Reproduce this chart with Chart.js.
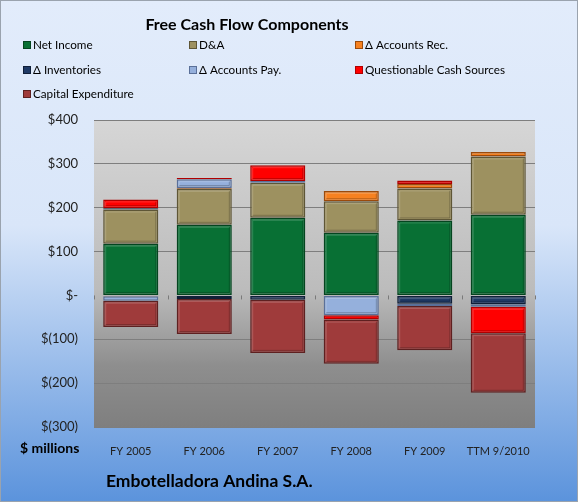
<!DOCTYPE html>
<html>
<head>
<meta charset="utf-8">
<script src="https://cdn.jsdelivr.net/npm/chart.js@4.4.0/dist/chart.umd.min.js"></script>
<style>
  html, body { margin: 0; padding: 0; background: #fff; }
  #wrap { width: 578px; height: 502px; }
</style>
</head>
<body>
<div id="wrap"><canvas id="kaavio" width="578" height="502"></canvas></div>
<script>
// Data luettu kuvasta ($ miljoonaa)
const vuodet = ["FY 2005", "FY 2006", "FY 2007", "FY 2008", "FY 2009", "TTM 9/2010"];
const nettotulos = [118, 161, 177, 143, 171, 184];
const poistot = [78, 82, 80, 72, 73, 133];
const myyntisaamiset = [-2, 2, 0, 23, 10, 10];
const varastot = [3, -8, -10, 0, -19, -20];
const ostovelat = [-10, 20, 4, -45, -5, -6];
const kyseenalaiset = [20, 3, 36, -10, 8, -60];
const investoinnit = [-60, -80, -121, -101, -101, -136];
const yTicks = [400, 300, 200, 100, 0, -100, -200, -300];

const fontti = "Lato, 'Open Sans', sans-serif";

// Värit ja reunavärit sarjoille
const sarjat = [
  { label: "Net Income", data: nettotulos, vari: "#087034", reuna: "#04451f" },
  { label: "D&A", data: poistot, vari: "#9d9160", reuna: "#5e5636" },
  { label: "\u0394 Accounts Rec.", data: myyntisaamiset, vari: "#f68120", reuna: "#9a4a0c" },
  { label: "\u0394 Inventories", data: varastot, vari: "#1f3a66", reuna: "#101f38" },
  { label: "\u0394 Accounts Pay.", data: ostovelat, vari: "#95b0dc", reuna: "#5a7099" },
  { label: "Questionable Cash Sources", data: kyseenalaiset, vari: "#ff0000", reuna: "#b00000" },
  { label: "Capital Expenditure", data: investoinnit, vari: "#9f3b3b", reuna: "#5e2020" }
];

// Taustat, otsikko, selite ja tekstit piirretään itse
const taustaPlugin = {
  id: "tausta",
  beforeDraw(chart) {
    const c = chart.ctx;
    const a = chart.chartArea;
    c.save();
    let g = c.createLinearGradient(0, 0, 0, 502);
    g.addColorStop(0, "#e2ecfb");
    g.addColorStop(0.45, "#d9e6f9");
    g.addColorStop(1, "#5b93dc");
    c.fillStyle = g;
    c.fillRect(0, 0, 578, 502);
    c.strokeStyle = "#9aa3ae";
    c.lineWidth = 1;
    c.strokeRect(0.5, 0.5, 577, 501);
    // piirtoalueen harmaa liukuväri
    let g2 = c.createLinearGradient(0, a.top, 0, a.bottom);
    g2.addColorStop(0, "#d6d6d6");
    g2.addColorStop(0.55, "#bcbcbc");
    g2.addColorStop(0.8, "#8e8e8e");
    g2.addColorStop(1, "#7f7f7f");
    c.fillStyle = g2;
    c.fillRect(a.left, a.top, a.right - a.left, a.bottom - a.top);
    c.restore();
  },
  afterDatasetsDraw(chart) {
    // pylväiden viisteet: vaalea yläreuna, tumma alareuna
    const c = chart.ctx;
    c.save();
    c.lineWidth = 1;
    chart.data.datasets.forEach(function (ds, i) {
      chart.getDatasetMeta(i).data.forEach(function (bar) {
        const p = bar.getProps(["x", "y", "base", "width"], true);
        const top = Math.min(p.y, p.base), bot = Math.max(p.y, p.base);
        if (bot - top < 5) return;
        const l = p.x - p.width / 2 + 2, r = p.x + p.width / 2 - 2;
        c.strokeStyle = "rgba(255,255,255,0.18)";
        c.beginPath();
        c.moveTo(l + 0.5, bot - 2); c.lineTo(l + 0.5, top + 2.5); c.lineTo(r - 0.5, top + 2.5);
        c.stroke();
        c.strokeStyle = "rgba(0,0,0,0.22)";
        c.beginPath();
        c.moveTo(r - 0.5, top + 2.5); c.lineTo(r - 0.5, bot - 2.5); c.lineTo(l + 0.5, bot - 2.5);
        c.stroke();
      });
    });
    c.restore();
  },
  afterDraw(chart) {
    const c = chart.ctx;
    c.save();
    c.fillStyle = "#000";
    c.textBaseline = "middle";
    c.textAlign = "center";
    c.font = "bold 16px " + fontti;
    c.fillText("Free Cash Flow Components", 247, 25);
    // selite kolmessa sarakkeessa
    const sx = [23, 189, 355];
    const sy = [45, 70, 94];
    c.textAlign = "left";
    c.font = "11.7px " + fontti;
    chart.data.datasets.forEach(function (ds, i) {
      const x = sx[i % 3];
      const y = sy[Math.floor(i / 3)];
      c.fillStyle = ds.backgroundColor;
      c.fillRect(x, y - 4, 8, 8);
      c.strokeStyle = ds.borderColor;
      c.strokeRect(x + 0.5, y - 3.5, 7, 7);
      c.fillStyle = "#000";
      c.fillText(ds.label, x + 10, y);
    });
    c.font = "bold 14px " + fontti;
    c.fillText("$ millions", 20, 448);
    c.font = "bold 17.5px " + fontti;
    c.fillText("Embotelladora Andina S.A.", 106, 481);
    // pienet jakoviivat nollatasolla
    const y0 = chart.scales.y.getPixelForValue(0);
    c.strokeStyle = "#7a7a7a";
    c.beginPath();
    for (let i = 0; i <= vuodet.length; i++) {
      const px = Math.round(chart.chartArea.left + i * (chart.chartArea.right - chart.chartArea.left) / vuodet.length) + 0.5;
      c.moveTo(px, y0);
      c.lineTo(px, y0 + 4);
    }
    c.stroke();
    c.restore();
  }
};

new Chart(document.getElementById("kaavio"), {
  type: "bar",
  data: {
    labels: vuodet,
    datasets: sarjat.map(function (s) {
      return {
        label: s.label,
        data: s.data,
        backgroundColor: s.vari,
        borderColor: s.reuna,
        borderWidth: 1.5,
        borderSkipped: false,
        barPercentage: 0.75,
        categoryPercentage: 1
      };
    })
  },
  options: {
    responsive: false,
    animation: false,
    events: [],
    layout: { padding: { left: 0, right: 43, top: 120, bottom: 0 } },
    plugins: {
      legend: { display: false },
      title: { display: false },
      tooltip: { enabled: false }
    },
    scales: {
      x: {
        stacked: true,
        grid: { display: false },
        border: { display: false },
        ticks: { color: "#222", font: { family: fontti, size: 11 }, padding: 10, maxRotation: 0 },
        afterFit(scale) { scale.height = 75; }
      },
      y: {
        stacked: true,
        min: -300,
        max: 400,
        afterBuildTicks(scale) { scale.ticks = yTicks.map(function (v) { return { value: v }; }); },
        afterFit(scale) { scale.width = 94; },
        grid: {
          color: function (ctx) { return ctx.tick && ctx.tick.value === 0 ? "rgba(0,0,0,0)" : "#7e7e7e"; },
          drawTicks: false
        },
        border: { display: false },
        ticks: {
          color: "#222",
          padding: 16,
          font: { family: fontti, size: 13 },
          callback: function (v) {
            if (v === 0) return "$-";
            if (v < 0) return "$(" + Math.abs(v) + ")";
            return "$" + v;
          }
        }
      }
    }
  },
  plugins: [taustaPlugin]
});
</script>
</body>
</html>
